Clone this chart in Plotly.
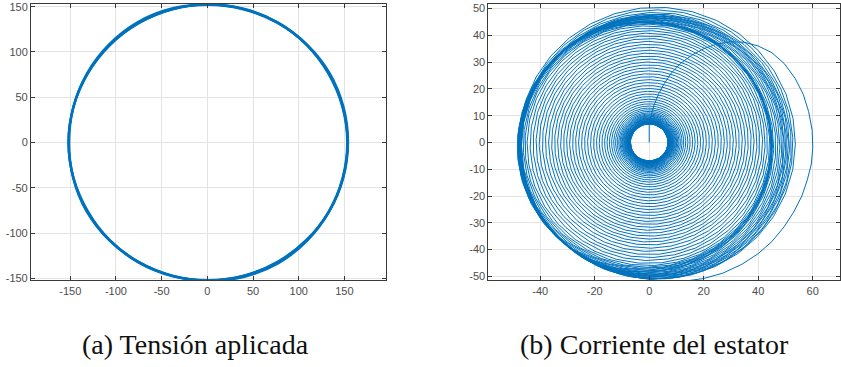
import numpy as np
import plotly.graph_objects as go

BLUE = "#0072BD"

# ---------------- (a) Applied voltage: radius per angle (every 15 deg), three cycles ----------------
volt_angles_deg = [0, 15, 30, 45, 60, 75, 90, 105, 120, 135, 150, 165, 180,
                   195, 210, 225, 240, 255, 270, 285, 300, 315, 330, 345, 360]
volt_radius_c1 = [152.6, 152.5, 152.4, 152.3, 152.3, 152.1, 152.0, 152.2, 152.3, 152.4, 152.5, 152.6, 152.7,
                  152.6, 152.4, 152.3, 152.2, 152.1, 152.0, 152.2, 152.4, 152.5, 152.6, 152.6, 152.6]
volt_radius_c2 = [153.0, 153.2, 153.4, 153.0, 152.6, 152.5, 152.4, 153.2, 153.6, 153.3, 153.0, 152.6, 152.2,
                  152.8, 153.2, 152.9, 152.4, 152.5, 152.6, 153.4, 153.8, 153.3, 152.9, 152.9, 153.0]
volt_radius_c3 = [152.2, 152.1, 152.0, 152.6, 153.1, 152.8, 152.6, 152.2, 152.0, 152.0, 152.1, 152.5, 152.9,
                  152.4, 152.0, 152.5, 152.9, 152.6, 152.3, 152.1, 152.0, 152.1, 152.3, 152.2, 152.2]
volt_center_x = 0.9
volt_center_y = 0.0

# ---------------- (b) Stator current ----------------
# initial transient path (x, y)
start_x = [0, 0, 0, 0.7, 1.8, 3.4, 5.5, 8.2, 11.5, 15.5, 20, 25, 30, 35, 40, 45, 49.5, 53.5,
           56.5, 58.5, 59.8, 60, 59.5, 58, 56, 53, 49.5, 45, 40, 34, 27, 20, 13, 6, 3]
start_y = [0, 3.5, 7, 10, 14, 18, 22, 26, 29.5, 32.5, 35, 36.8, 37.6, 37.4, 36, 33.5, 29.5, 24,
           18, 11.5, 4.5, -2, -8, -14, -20, -26, -31.5, -37, -41.5, -45.5, -48.8, -50.8, -51.8, -52, -51.5]
# amplitude and centre of each following cycle
turn_radius = [51.0, 50.5, 50.0, 49.6, 49.3, 49.0, 48.8, 48.6, 48.4, 48.2, 48.0, 47.8, 47.6,
               47.3, 47.0, 46.8, 46.6, 46.4, 46.2, 46.0, 45.6, 45.2,
               44.6, 43.6, 42.6, 41.6, 40.5, 39.4, 38.3, 37.2, 36.1, 35.0, 33.9, 32.8, 31.7,
               30.6, 29.5, 28.4, 27.3, 26.2, 25.1, 24.0, 22.9, 21.8, 20.7, 19.6, 18.6, 17.6,
               16.6, 15.7, 14.8, 14.0, 13.2, 12.5, 11.9, 11.3,
               10.8, 10.4, 10.0, 9.7, 9.4, 9.1, 8.9, 8.7, 8.5, 8.3, 8.1, 8.0,
               7.9, 7.8, 7.7, 7.6, 7.5, 7.5, 7.4, 7.4, 7.3, 7.3, 7.2, 7.2, 7.1, 7.1, 7.0,
               7.0, 7.0, 6.9, 6.9, 6.9]
turn_cx = [3.0, 3.0, 2.5, 2.5, 2.0, 2.0, 1.5, 1.5, 1.0, 1.0, 0.5, 0.0, -0.5,
           -1.0, -1.5, -1.5, -1.5, -1.5, -1.2, -1.0, -0.8, -0.6,
           -0.5, -0.4, -0.3, -0.2, -0.2, -0.1, -0.1, 0.0]
turn_cy = [0.0, -0.5, -1.0, -1.5, -1.5, -1.5, -1.5, -1.5, -1.5, -1.5, -1.5, -1.5, -1.5,
           -1.5, -1.5, -1.5, -1.5, -1.3, -1.2, -1.0, -1.0, -0.8,
           -0.6, -0.5, -0.4, -0.3, -0.2, -0.1, 0.0]
samples_per_turn = 33.3

# ---------------- build traces ----------------
fig = go.Figure()
for radii in (volt_radius_c1, volt_radius_c2, volt_radius_c3):
    vx = [volt_center_x + r * np.cos(np.deg2rad(a)) for a, r in zip(volt_angles_deg, radii)]
    vy = [volt_center_y + r * np.sin(np.deg2rad(a)) for a, r in zip(volt_angles_deg, radii)]
    fig.add_trace(go.Scatter(x=vx, y=vy, mode="lines", line=dict(color=BLUE, width=2.4, shape="spline"),
                             xaxis="x", yaxis="y", hoverinfo="skip"))

cx_all = turn_cx + [0.0] * (len(turn_radius) - len(turn_cx))
cy_all = turn_cy + [0.0] * (len(turn_radius) - len(turn_cy))
ix, iy = list(start_x), list(start_y)
n_turns = len(turn_radius) - 1
n_pts = int(n_turns * samples_per_turn)
for k in range(1, n_pts + 1):
    f = k / samples_per_turn
    j = min(int(f), n_turns - 1)
    u = f - j
    r = turn_radius[j] + (turn_radius[j + 1] - turn_radius[j]) * u
    cx = cx_all[j] + (cx_all[j + 1] - cx_all[j]) * u
    cy = cy_all[j] + (cy_all[j + 1] - cy_all[j]) * u
    th = -np.pi / 2 - 2 * np.pi * f
    ix.append(cx + r * np.cos(th))
    iy.append(cy + r * np.sin(th))

fig.add_trace(go.Scatter(x=ix, y=iy, mode="lines", line=dict(color=BLUE, width=1.0),
                         xaxis="x2", yaxis="y2", hoverinfo="skip"))

left_ticks = [-150, -100, -50, 0, 50, 100, 150]
left_ticktext = ["-150", "-100", "-50", "0", "50", "100", "150"]
right_xticks = [-40, -20, 0, 20, 40, 60]
right_xticktext = ["-40", "-20", "0", "20", "40", "60"]
right_yticks = [-50, -40, -30, -20, -10, 0, 10, 20, 30, 40, 50]
right_yticktext = ["-50", "-40", "-30", "-20", "-10", "0", "10", "20", "30", "40", "50"]

tickfont = dict(family="Liberation Sans", size=11, color="#4d4d4d")
common = dict(showgrid=True, gridcolor="#e3e3e3", gridwidth=1, zeroline=False,
              showline=True, linecolor="#3a3a3a", linewidth=1, mirror="ticks",
              ticks="inside", ticklen=4, tickcolor="#3a3a3a", tickfont=tickfont)

fig.update_layout(
    width=841, height=367, margin=dict(l=0, r=0, t=0, b=0),
    paper_bgcolor="white", plot_bgcolor="white", showlegend=False,
    xaxis=dict(domain=[31 / 841, 386 / 841], range=[-193, 195], tickvals=left_ticks,
               ticktext=left_ticktext, anchor="y", **common),
    yaxis=dict(domain=[1 - 283 / 367, 1 - 2 / 367], range=[-152.2, 153], tickvals=left_ticks,
               ticktext=left_ticktext, anchor="x", **common),
    xaxis2=dict(domain=[489 / 841, 1.0], range=[-59, 70], tickvals=right_xticks,
                ticktext=right_xticktext, anchor="y2", **common),
    yaxis2=dict(domain=[1 - 283 / 367, 1 - 2 / 367], range=[-51.5, 51.7], tickvals=right_yticks,
                ticktext=right_yticktext, anchor="x2", **common),
)

capfont = dict(family="Liberation Serif", size=28, color="#111111")
fig.add_annotation(text="(a) Tensión aplicada", x=196 / 841, y=1 - 348 / 367, xref="paper", yref="paper",
                   showarrow=False, font=capfont, xanchor="center", yanchor="middle")
fig.add_annotation(text="(b) Corriente del estator", x=655 / 841, y=1 - 348 / 367, xref="paper",
                   yref="paper", showarrow=False, font=capfont, xanchor="center", yanchor="middle")

fig.write_html("out.html")
